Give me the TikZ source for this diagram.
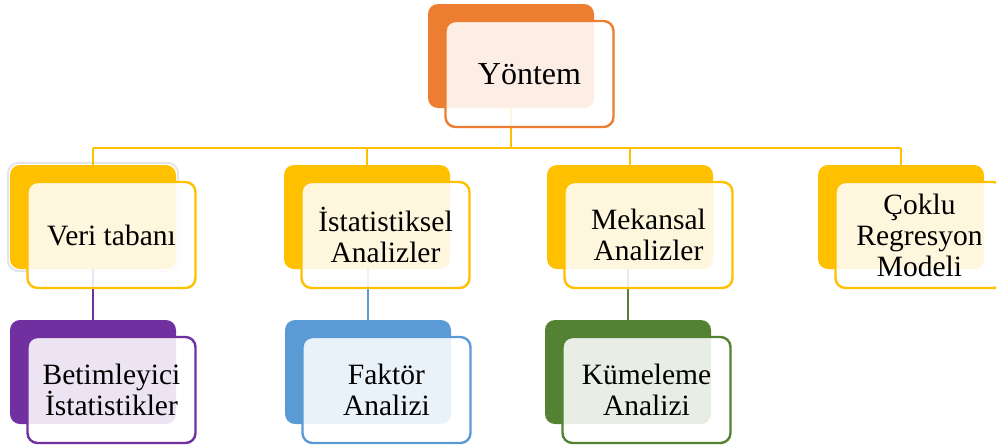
\documentclass[tikz,border=0pt]{standalone}
\usepackage{fontspec}
\setmainfont{Liberation Serif}
\definecolor{cOrange}{HTML}{ED7D31}
\definecolor{cGold}{HTML}{FFC000}
\definecolor{cPurple}{HTML}{7030A0}
\definecolor{cBlue}{HTML}{5B9BD5}
\definecolor{cGreen}{HTML}{548235}
\definecolor{cHalo}{HTML}{E4E4E4}
\tikzset{
  backbox/.style={rectangle, rounded corners=10pt, minimum width=166pt,
    minimum height=104pt, inner sep=0pt, fill=#1, draw=none},
  frontbox/.style={rectangle, rounded corners=10pt, minimum width=168pt,
    minimum height=106pt, inner sep=0pt, draw=#1, line width=2.4pt,
    fill=white, fill opacity=0.87, text opacity=1, align=center,
    font=\fontsize{29.5}{31}\selectfont},
  conn/.style={draw=#1, line width=2.4pt},
}
\begin{document}
\begin{tikzpicture}[x=1pt, y=-1pt]
\useasboundingbox (0,0) rectangle (996,445);
\coordinate (bus) at (0,148);

% back panels
\node[backbox=cOrange] (yb) at (511,56) {};
\node[backbox=cGold]   (vb) at (93,217) {};
\node[backbox=cGold]   (ib) at (367,217) {};
\node[backbox=cGold]   (mb) at (630,217) {};
\node[backbox=cGold]   (cb) at (901,217) {};
\node[backbox=cPurple] (bb) at (93,372) {};
\node[backbox=cBlue]   (fb) at (368,372) {};
\node[backbox=cGreen]  (kb) at (628,372) {};
\draw[cHalo, line width=2pt, rounded corners=11pt]
  ([shift={(-2,-2)}]vb.north west) rectangle ([shift={(2,2)}]vb.south east);

% connectors
\draw[conn=cGold] (yb.south) -- (yb.south |- bus);
\draw[conn=cGold] (vb.north |- bus) -- (cb.north |- bus);
\draw[conn=cGold] (vb.north |- bus) -- (vb.north);
\draw[conn=cGold] (ib.north |- bus) -- (ib.north);
\draw[conn=cGold] (mb.north |- bus) -- (mb.north);
\draw[conn=cGold] (cb.north |- bus) -- (cb.north);
\draw[conn=cPurple] (vb.south) -- (bb.north);
\draw[conn=cBlue] (ib.south) -- (ib.south -| fb.north) -- (fb.north);
\draw[conn=cGreen] (mb.south -| kb.north) -- (kb.north);

% front panels with labels
\node[frontbox=cOrange, font=\fontsize{32}{34}\selectfont] (yf)
  at ([shift={(18.5,18)}]yb.center) {Yöntem};
\node[frontbox=cGold]   (vf) at ([shift={(18.5,18)}]vb.center) {Veri tabanı};
\node[frontbox=cGold]   (if) at ([shift={(18.5,18)}]ib.center) {İstatistiksel\\Analizler};
\node[frontbox=cGold]   (mf) at ([shift={(18.5,18)}]mb.center) {Mekansal\\Analizler};
\node[frontbox=cGold]   (cf) at ([shift={(18.5,18)}]cb.center) {Çoklu\\Regresyon\\Modeli};
\node[frontbox=cPurple] (bf) at ([shift={(18.5,18)}]bb.center) {Betimleyici\\İstatistikler};
\node[frontbox=cBlue]   (ff) at ([shift={(18.5,18)}]fb.center) {Faktör\\Analizi};
\node[frontbox=cGreen]  (kf) at ([shift={(18.5,18)}]kb.center) {Kümeleme\\Analizi};
\end{tikzpicture}
\end{document}
